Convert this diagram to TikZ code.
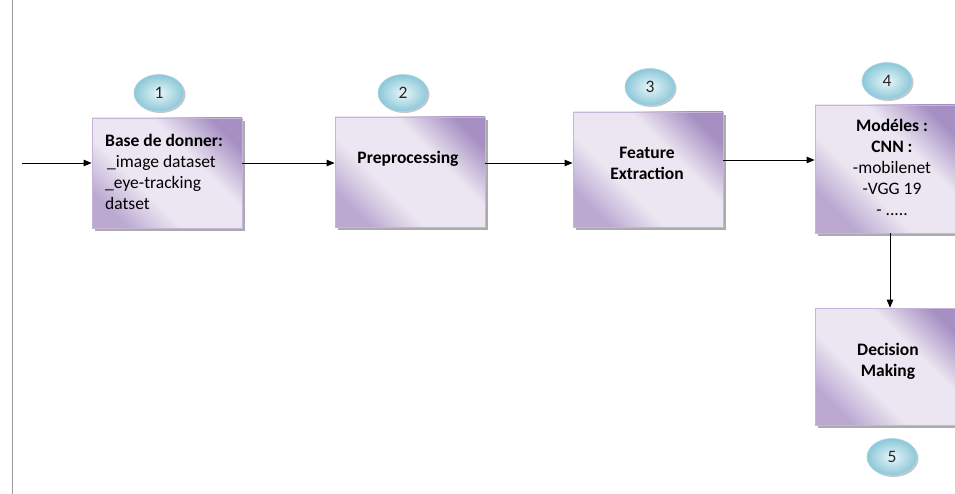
\documentclass[tikz,border=0pt]{standalone}
\usepackage{fontspec}
\setmainfont{Carlito}
\usetikzlibrary{arrows.meta,shapes.geometric,shadows}

\definecolor{boxdark}{HTML}{A68FC3}
\definecolor{boxmid}{HTML}{BBA9D2}
\definecolor{boxlight}{HTML}{EBE6F1}
\definecolor{boxedge}{HTML}{C6B5D9}
\definecolor{ovlight}{HTML}{E8F6F9}
\definecolor{ovdark}{HTML}{8CC7D8}
\definecolor{ovedge}{HTML}{A9D7E3}

% lavender sheen along one axis: mid tone, light plateau, dark end
\pgfdeclarehorizontalshading{stepshade}{100bp}{%
  color(0bp)=(boxmid); color(29bp)=(boxmid); color(41bp)=(boxlight);
  color(59bp)=(boxlight); color(72bp)=(boxdark); color(100bp)=(boxdark)}

\tikzset{
  x=1pt, y=1pt,
  stepbox/.style={rectangle, draw=boxedge, line width=0.8pt,
    fill=boxlight, minimum width=150pt, inner sep=0pt,
    path picture={
      % a square of sheen, turned so it runs lower-left to upper-right
      \shade[shading=stepshade, shading angle=45]
        ([shift={(-80,-80)}]path picture bounding box.center) rectangle
        ([shift={(80,80)}]path picture bounding box.center);},
    drop shadow={shadow xshift=2.5pt, shadow yshift=-3pt,
      fill=gray!65, opacity=1}},
  steptext/.style={font=\fontsize{17.5}{21}\selectfont, align=center,
    inner sep=0pt, text=black},
  badge/.style={ellipse, draw=ovedge, line width=0.6pt,
    inner color=ovlight, outer color=ovdark,
    minimum width=50pt, minimum height=37pt, inner sep=0pt,
    font=\fontsize{17.5}{18}\selectfont, text=black!85,
    drop shadow={shadow xshift=1.5pt, shadow yshift=-1.5pt,
      fill=gray!45, opacity=1}},
  flow/.style={-{Triangle[length=8pt,width=6.5pt]}, line width=0.8pt, black}
}

\begin{document}
\begin{tikzpicture}
\useasboundingbox (0,0) rectangle (955,-494);
\clip (0,0) rectangle (955,-494);

% left margin rule
\coordinate (railtop) at (12,0);
\coordinate (railbot) at (12,-494);
\draw[gray!80, line width=0.8pt] (railtop) -- (railbot);

% process boxes
\node[stepbox, minimum height=110pt] (b1) at (167,-173) {};
\node[stepbox, minimum height=110pt] (b2) at (410,-172) {};
\node[stepbox, minimum height=115pt] (b3) at (648,-169.5) {};
\node[stepbox, minimum height=128pt] (b4) at (890,-169) {};
\node[stepbox, minimum height=117pt] (b5) at (890,-366.5) {};

% box captions
\node[steptext, anchor=west, align=left] (t1) at (105,-172)
  {\textbf{Base de donner:}\\\hspace{2pt}\_image dataset\\\_eye-tracking\\datset};
\node[steptext] (t2) at (408,-159) {\textbf{Preprocessing}};
\node[steptext] (t3) at (647,-163) {\textbf{Feature}\\\textbf{Extraction}};
\node[steptext] (t4) at (892,-167)
  {\textbf{Modéles :}\\\textbf{CNN :}\\-mobilenet\\-VGG 19\\- .....};
\node[steptext] (t5) at (888,-361) {\textbf{Decision}\\\textbf{Making}};

% step numbers
\node[badge] (n1) at (159,-93) {1};
\node[badge] (n2) at (403,-93) {2};
\node[badge] (n3) at (650,-87) {3};
\node[badge] (n4) at (887,-81) {4};
\node[badge] (n5) at (892,-457) {5};

% connectors
\coordinate (in) at (22,-163);
\coordinate (row2) at (0,-163);
\coordinate (row3) at (0,-160);
\draw[flow] (in) -- (in -| b1.west);
\draw[flow] (b1.east |- row2) -- (b2.west |- row2);
\draw[flow] (b2.east |- row2) -- (b3.west |- row2);
\draw[flow] (b3.east |- row3) -- (b4.west |- row3);
\draw[flow] (b4.south) -- (b5.north);
\end{tikzpicture}
\end{document}
